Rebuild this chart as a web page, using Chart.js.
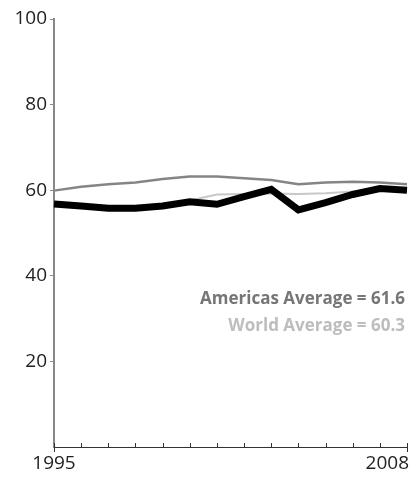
<!DOCTYPE html>
<html>
<head>
<meta charset="utf-8">
<script src="https://cdn.jsdelivr.net/npm/chart.js@4"></script>
<style>
  html, body { margin: 0; padding: 0; background: #fff; }
  #wrap { width: 412px; height: 480px; }
</style>
</head>
<body>
<div id="wrap"><canvas id="chart" width="412" height="480"></canvas></div>
<script>
const years = [1995, 1996, 1997, 1998, 1999, 2000, 2001, 2002, 2003, 2004, 2005, 2006, 2007, 2008];
const countryValues = [56.8, 56.3, 55.8, 55.8, 56.3, 57.3, 56.7, 58.5, 60.2, 55.4, 57.1, 59.0, 60.4, 60.0];
const americasValues = [59.9, 60.8, 61.4, 61.8, 62.6, 63.2, 63.2, 62.8, 62.4, 61.4, 61.8, 62.0, 61.8, 61.4];
const worldValues = [56.8, 56.5, 56.2, 56.3, 56.8, 57.6, 59.0, 59.1, 59.2, 59.1, 59.3, 59.7, 60.2, 60.3];
const yTicks = [20, 40, 60, 80, 100];
const xTickLabels = ["1995", "2008"];
const notes = [
    { text: "Americas Average = 61.6", color: "#767676" },
    { text: "World Average = 60.3", color: "#bdbdbd" }
];

// ticks on the x axis point up, labels only at both ends
const xAxisDecor = {
    id: "xAxisDecor",
    afterDraw(chart) {
        const ctx = chart.ctx;
        const x = chart.scales.x;
        const area = chart.chartArea;
        ctx.save();
        ctx.strokeStyle = "#333";
        ctx.lineWidth = 1;
        years.forEach((yr, i) => {
            const px = Math.round(x.getPixelForValue(i)) + 0.5;
            const last = i === 0 || i === years.length - 1;
            ctx.beginPath();
            ctx.moveTo(px, area.bottom - 4);
            ctx.lineTo(px, area.bottom + (last ? 5 : 0));
            ctx.stroke();
        });
        ctx.fillStyle = "#222";
        ctx.font = "19px 'Open Sans'";
        ctx.textBaseline = "top";
        ctx.textAlign = "center";
        ctx.fillText(xTickLabels[0], x.getPixelForValue(0), area.bottom + 7);
        ctx.textAlign = "right";
        ctx.fillText(xTickLabels[1], x.getPixelForValue(years.length - 1) + 2, area.bottom + 7);

        ctx.font = "bold 17px 'Open Sans'";
        ctx.textBaseline = "middle";
        notes.forEach((n, i) => {
            ctx.fillStyle = n.color;
            ctx.fillText(n.text, 405, 299 + i * 27);
        });
        ctx.restore();
    }
};

new Chart(document.getElementById("chart"), {
    type: "line",
    data: {
        labels: years,
        datasets: [
            {
                label: "Country",
                data: countryValues,
                borderColor: "#000",
                borderWidth: 7,
                order: 0
            },
            {
                label: "Americas",
                data: americasValues,
                borderColor: "#858585",
                borderWidth: 2.5,
                order: 1
            },
            {
                label: "World",
                data: worldValues,
                borderColor: "#c8c8c8",
                borderWidth: 2,
                order: 2
            }
        ]
    },
    options: {
        responsive: false,
        animation: false,
        layout: { padding: { top: 19, right: 5, left: 0, bottom: 0 } },
        elements: {
            point: { radius: 0 },
            line: { tension: 0, borderCapStyle: "butt", borderJoinStyle: "miter" }
        },
        plugins: {
            legend: { display: false },
            tooltip: { enabled: false }
        },
        scales: {
            x: {
                offset: false,
                grid: { display: false, drawTicks: false },
                border: { display: true, color: "#333", width: 1 },
                ticks: { display: false },
                afterFit(scale) { scale.height = 33; }
            },
            y: {
                min: 0,
                max: 100,
                afterBuildTicks(scale) {
                    scale.ticks = yTicks.map(v => ({ value: v }));
                },
                grid: { drawOnChartArea: false, tickLength: 4, color: "#888" },
                border: { display: true, color: "#888", width: 2 },
                ticks: {
                    color: "#222",
                    padding: 3,
                    font: { family: "'Open Sans'", size: 19 }
                },
                afterFit(scale) { scale.width = 54; }
            }
        }
    },
    plugins: [xAxisDecor]
});
</script>
</body>
</html>
